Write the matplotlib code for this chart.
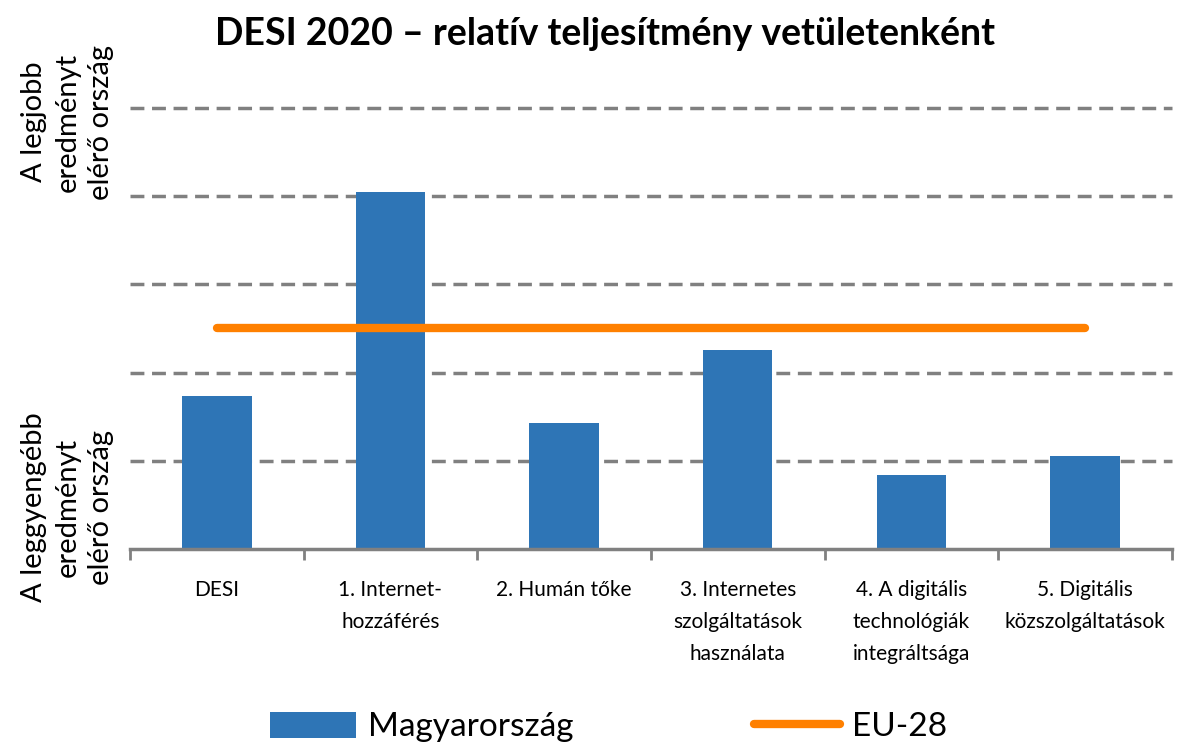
import matplotlib
matplotlib.use("Agg")
import matplotlib.pyplot as plt
import numpy as np

# adatok (rácsvonal = 1 egység)
categories = ["DESI", "1. Internet-\nhozzáférés", "2. Humán tőke",
              "3. Internetes\nszolgáltatások\nhasználata",
              "4. A digitális\ntechnológiák\nintegráltsága",
              "5. Digitális\nközszolgáltatások"]
hungary = [1.73, 4.05, 1.43, 2.26, 0.84, 1.05]
eu28 = [2.50, 2.50, 2.50, 2.50, 2.50, 2.50]
gridlevels = [1, 2, 3, 4, 5]

plt.rcParams['font.family'] = ['Lato', 'DejaVu Sans']

fig = plt.figure(figsize=(11.86, 7.49), dpi=100)
ax = fig.add_axes([0.1096, 0.267, 0.8784, 0.589])

x = np.arange(len(categories))

for g in gridlevels:
    ax.axhline(g, color="#808080", linewidth=2.5, linestyle=(0, (4, 2.2)), zorder=1, clip_on=False)

bars = ax.bar(x, hungary, width=0.4, color="#2E75B6", zorder=2, label="Magyarország")
line, = ax.plot(x, eu28, color="#FF8000", linewidth=6, solid_capstyle="round", zorder=3, label="EU-28")

ax.set_xlim(-0.5, len(categories) - 0.5)
ax.set_ylim(0, 5)

ax.set_xticks(x)
ax.set_xticklabels(categories, fontsize=15, linespacing=1.75, va="top")
ax.set_xticks(np.arange(-0.5, len(categories), 1.0), minor=True)
ax.tick_params(axis="x", which="major", length=0, pad=22)
ax.tick_params(axis="x", which="minor", length=8, width=2, color="#808080", direction="out")
ax.set_yticks([])

for s in ["top", "right", "left"]:
    ax.spines[s].set_visible(False)
ax.spines["bottom"].set_color("#808080")
ax.spines["bottom"].set_linewidth(2.5)

fig.text(0.51, 0.955, "DESI 2020 – relatív teljesítmény vetületenként",
         ha="center", va="center", fontsize=27, fontweight="bold")

fig.text(0.057, 0.837, "A legjobb\neredményt\nelérő ország", rotation=90,
         ha="center", va="center", fontsize=21, linespacing=1.35, multialignment="center")
fig.text(0.057, 0.323, "A leggyengébb\neredményt\nelérő ország", rotation=90,
         ha="center", va="center", fontsize=21, linespacing=1.35, multialignment="center")

fig.legend([bars, line], ["Magyarország", "EU-28"], loc="center", bbox_to_anchor=(0.513, 0.029),
           ncol=2, frameon=False, fontsize=24, handlelength=2.6, handleheight=0.8,
           columnspacing=5.4, handletextpad=0.35)

fig.savefig("out.png", dpi=100)
